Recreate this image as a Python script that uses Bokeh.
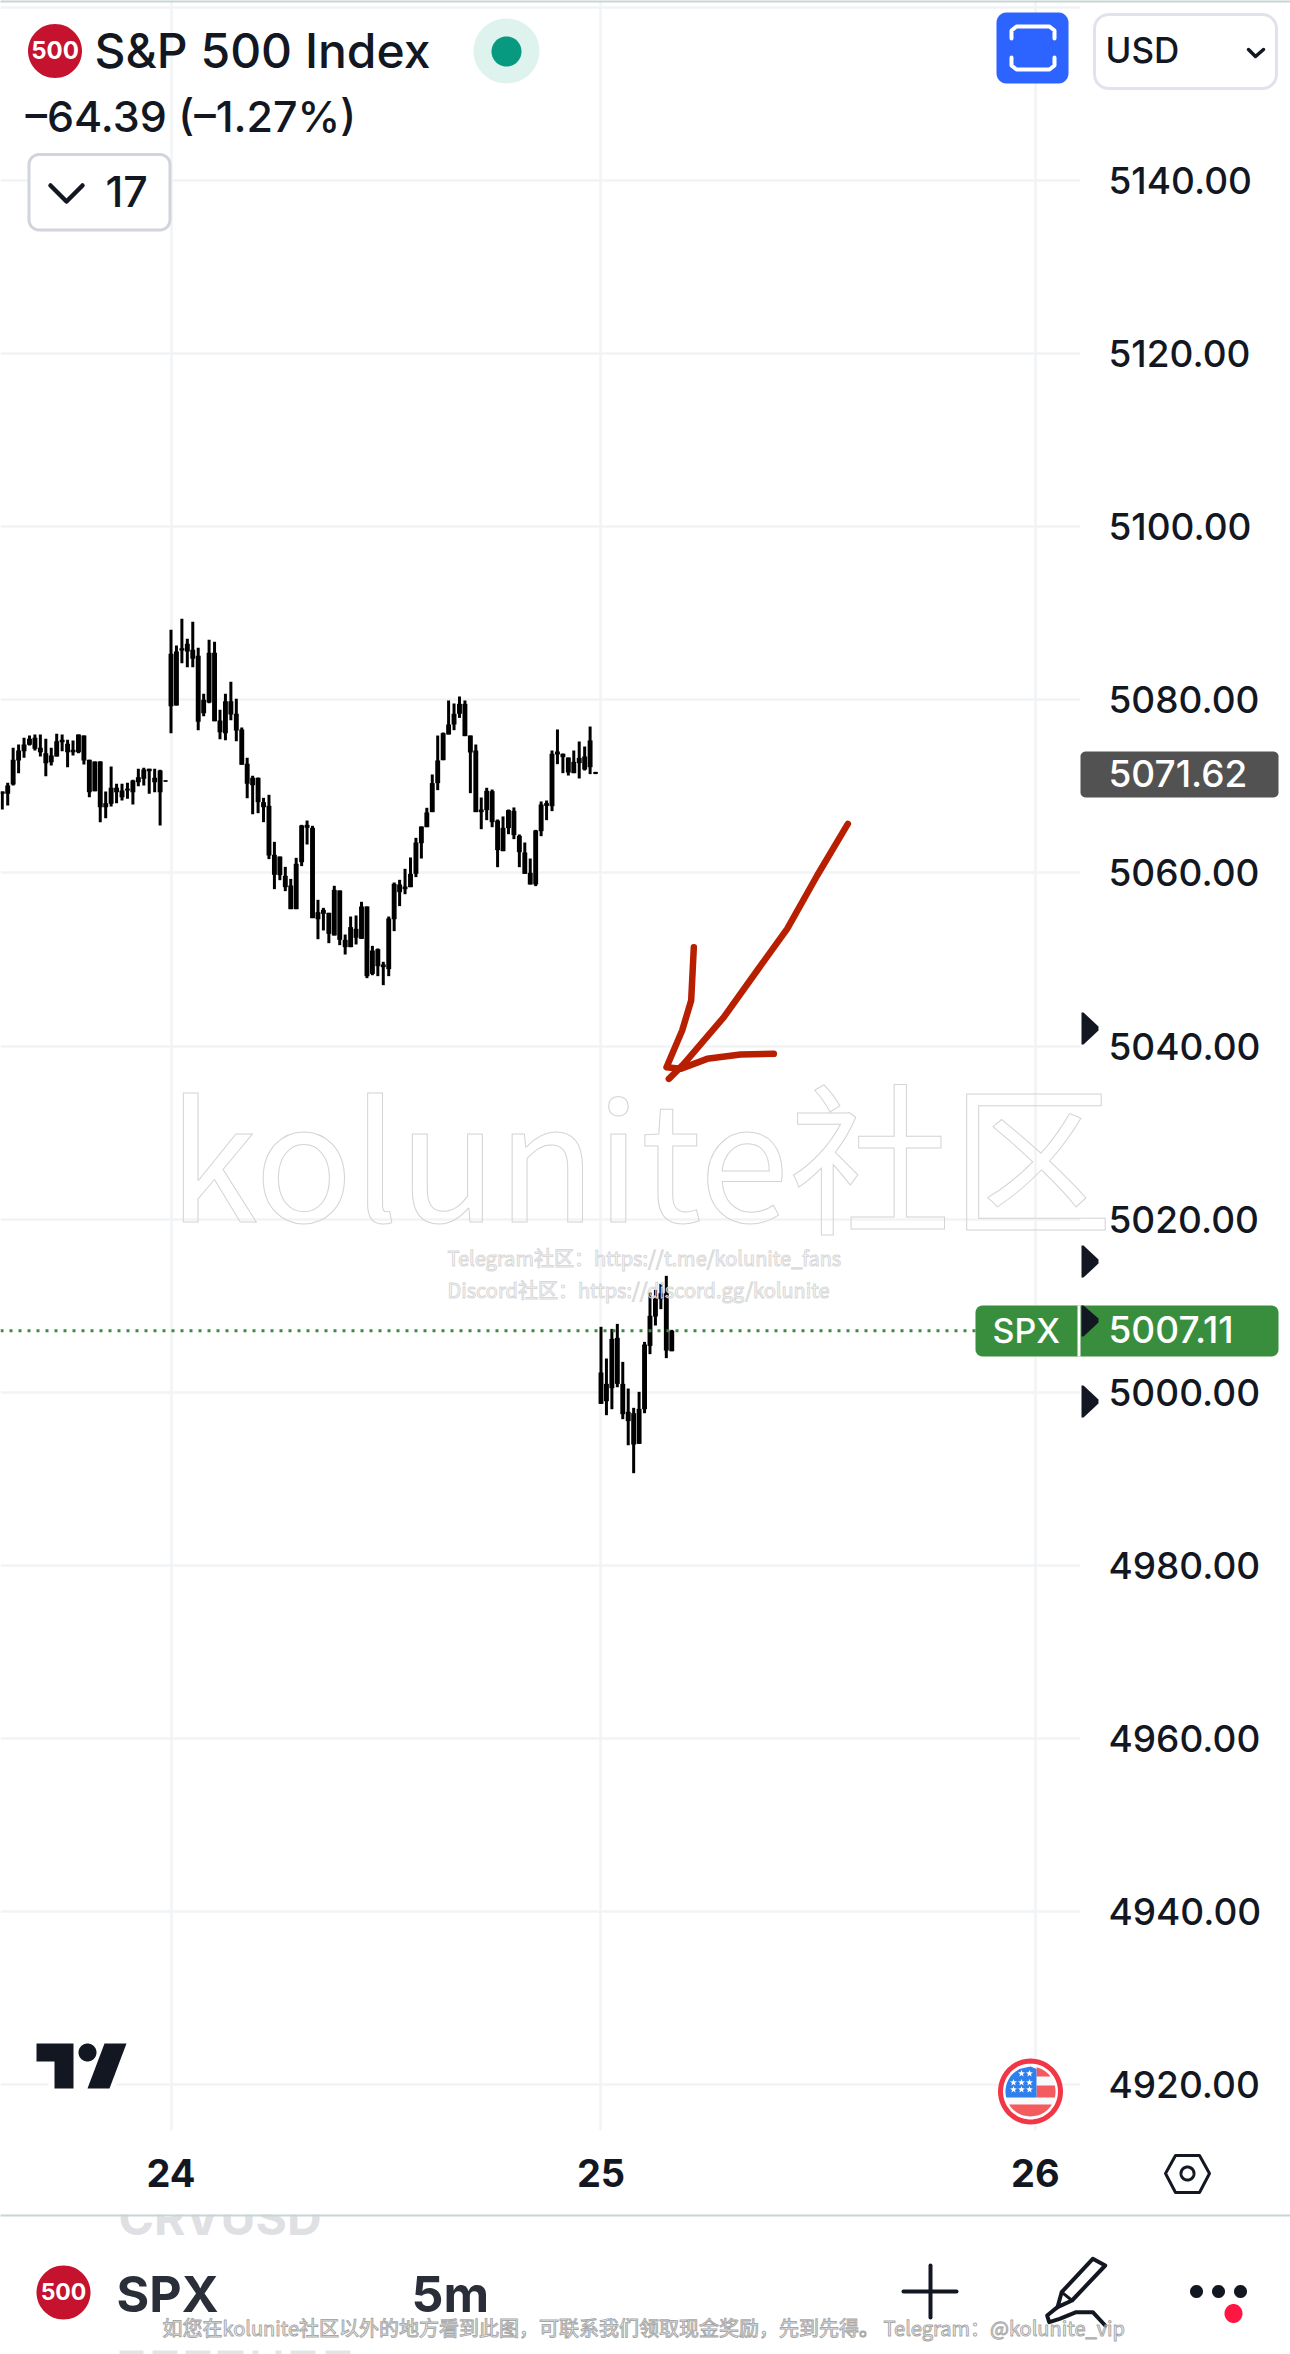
import math
from bokeh.plotting import figure
from bokeh.embed import file_html
from bokeh.resources import INLINE
from bokeh.core.properties import value
from bokeh.models import Range1d, FixedTicker, NumeralTickFormatter, Span, ColumnDataSource

# ---- data: 5-minute bars ------------------------------------------------------------------
bar_index = list(range(-31, 79)) + list(range(79, 93))

high = [5069.41,5070.41,5074.46,5074.84,5075.61,5075.88,5076.00,5076.00,5075.50,5074.46,5076.08,5076.00,5075.38,5075.31,5076.00,5075.88,5073.07,5072.88,5072.92,5069.41,5072.30,5070.30,5070.30,5070.41,5070.76,5072.03,5072.15,5072.03,5072.03,5071.92,5070.72,
        5088.09,5086.28,5089.36,5087.05,5089.01,5086.01,5080.70,5086.94,5086.70,5078.85,5080.70,5082.08,5080.12,5076.81,5073.30,5071.22,5071.03,5068.68,5069.03,5063.60,5061.90,5060.71,5059.32,5061.75,5065.56,5066.06,5065.45,5056.90,
        5055.97,5055.40,5058.52,5057.98,5052.89,5054.97,5055.09,5056.67,5056.13,5051.58,5051.28,5049.74,5054.97,5058.90,5059.21,5060.48,5061.79,5064.06,5065.37,5067.53,5071.38,5075.88,5076.23,5079.93,5079.58,5080.39,5079.93,5075.88,5074.84,5068.72,5069.84,5069.64,5066.18,5066.53,5067.33,5067.57,5064.45,5063.52,5061.67,5064.98,5068.26,5068.37,5074.15,5076.58,5073.80,5073.34,5074.15,5075.19,5074.61,5076.92,5071.69,
        5007.57,5003.91,5007.33,5007.91,5003.52,5000.44,4998.21,5000.06,5005.83,5011.53,5011.84,5012.53,5013.46,5007.22]
low = [5067.33,5067.80,5070.11,5071.53,5073.30,5074.73,5074.15,5073.46,5071.18,5072.42,5073.46,5074.07,5072.22,5073.57,5073.84,5072.53,5068.76,5069.45,5065.87,5066.33,5067.68,5068.07,5068.37,5068.57,5067.91,5070.03,5070.11,5069.14,5069.34,5065.48,5070.53,
       5076.15,5079.35,5084.24,5083.78,5083.78,5076.50,5078.12,5079.62,5077.54,5075.46,5075.34,5077.65,5075.23,5072.49,5068.64,5066.79,5066.91,5065.87,5061.60,5058.13,5059.17,5057.90,5055.82,5055.82,5060.79,5063.29,5054.78,5052.35,
       5053.36,5051.89,5052.78,5051.66,5050.58,5051.43,5051.74,5052.39,5047.85,5048.19,5048.08,5047.04,5048.08,5053.28,5056.17,5057.55,5058.36,5059.52,5061.67,5065.29,5067.03,5069.57,5073.03,5076.00,5076.50,5077.92,5075.81,5069.22,5067.03,5065.06,5066.10,5065.29,5060.67,5062.52,5064.48,5063.91,5060.67,5059.90,5058.67,5058.48,5064.25,5066.10,5067.14,5072.57,5071.53,5071.26,5071.53,5070.92,5071.84,5071.42,5071.42,
       4998.67,4997.36,4998.05,5000.59,4996.90,4993.89,4990.66,4994.05,4997.59,5004.41,5007.72,5009.61,5003.95,5004.75]
body_top = [5069.41,5070.11,5073.07,5074.15,5074.84,5075.50,5075.61,5074.46,5073.84,5073.57,5075.23,5075.38,5074.92,5074.23,5076.00,5075.88,5073.07,5072.88,5072.88,5068.07,5069.84,5069.84,5069.53,5069.72,5070.68,5071.07,5071.95,5072.03,5070.99,5071.84,5070.68,
            5085.32,5085.59,5085.97,5086.47,5085.78,5085.09,5080.00,5085.43,5085.43,5077.62,5079.85,5079.85,5078.39,5076.58,5072.61,5070.99,5070.99,5068.18,5067.76,5062.10,5061.90,5059.67,5058.55,5061.06,5065.49,5065.56,5065.22,5055.47,
            5055.74,5055.40,5058.05,5057.98,5052.28,5053.74,5053.55,5056.13,5056.13,5051.04,5051.20,5049.43,5054.74,5058.75,5058.67,5058.44,5059.90,5063.52,5065.37,5066.99,5070.38,5073.00,5076.15,5077.15,5078.39,5079.54,5079.54,5075.88,5074.15,5067.33,5069.49,5069.45,5066.06,5065.22,5067.26,5067.18,5064.29,5062.37,5060.02,5064.91,5067.91,5068.07,5073.77,5074.03,5073.77,5073.34,5072.84,5073.30,5073.46,5075.31,5071.65,
            5002.29,5000.98,5006.18,5006.29,5000.98,4997.75,4997.59,4998.09,5005.52,5008.84,5010.84,5011.45,5011.45,5007.11]
body_bot = [5069.14,5069.14,5070.22,5072.99,5074.07,5074.80,5074.34,5073.96,5072.69,5072.80,5073.46,5075.11,5073.96,5073.96,5073.96,5072.99,5069.34,5069.45,5067.60,5067.60,5067.99,5069.34,5068.76,5069.53,5069.34,5070.49,5070.88,5071.76,5070.49,5069.34,5070.57,
            5079.27,5079.35,5085.70,5085.59,5084.74,5077.46,5078.46,5079.70,5077.54,5076.27,5076.15,5078.31,5076.46,5072.49,5070.30,5070.14,5068.18,5067.60,5062.02,5059.79,5059.75,5058.36,5055.82,5055.82,5061.25,5065.22,5054.78,5054.66,
            5055.28,5052.97,5052.78,5052.28,5051.43,5051.43,5052.51,5052.39,5048.08,5048.35,5049.23,5049.12,5048.89,5054.66,5057.78,5058.13,5058.36,5059.90,5063.44,5065.29,5067.03,5070.38,5073.03,5076.00,5077.15,5078.39,5075.81,5073.92,5067.03,5067.03,5067.26,5065.87,5062.64,5062.52,5065.18,5064.37,5062.40,5059.90,5058.67,5058.67,5064.83,5067.76,5067.72,5073.69,5073.38,5071.61,5071.53,5072.69,5071.96,5072.22,5071.46,
            4998.67,4998.98,5000.48,5000.98,4997.48,4996.67,4993.97,4994.05,4998.05,5005.37,5008.76,5010.76,5004.83,5004.75]

price_ticks = [4920, 4940, 4960, 4980, 5000, 5020, 5040, 5060, 5080, 5100, 5120, 5140]
top_grid_price = 5160
day_ticks = [0, 79, 158.8]
day_labels = {0: "24", 79: "25", 158.8: "26"}
last_price = 5007.11
last_price_label = "5007.11"
prev_close_label = "5071.62"
title_text = "S&P 500 Index"
change_text = "\u201364.39 (\u20131.27%)"
indicator_count = "17"
watermark_big = "kolunite社区"
watermark_1 = "Telegram社区：https://t.me/kolunite_fans"
watermark_2 = "Discord社区：https://discord.gg/kolunite"
watermark_3 = "如您在kolunite社区以外的地方看到此图，可联系我们领取现金奖励，先到先得。 Telegram：@kolunite_vip"

# ---- page geometry (pixels of the 1290x2354 picture) --------------------------------------
BAR_PX, UNIT_PX = 5.443, 8.656
X0_PX, Y0_PX = 170.5, 180.0          # bar 0, price 5140
def dx(X): return (X - X0_PX) / BAR_PX
def dy(Y): return 5140 - (Y - Y0_PX) / UNIT_PX
FRAME_R, FRAME_B = 1080, 2130

p = figure(width=1290, height=2354, output_backend="svg", toolbar_location=None,
           x_range=Range1d(dx(0), dx(FRAME_R)), y_range=Range1d(dy(FRAME_B), dy(0)),
           y_axis_location="right", min_border_left=0, min_border_top=0,
           min_border_right=1290 - FRAME_R, min_border_bottom=2354 - FRAME_B,
           background_fill_color="white", border_fill_color="white")
p.outline_line_color = None

GRID = "#f2f3f5"
INK = "#131722"
MED = "Inter Medium"
for ax in (p.xaxis[0], p.yaxis[0]):
    ax.axis_line_color = None
    ax.major_tick_line_color = None
    ax.minor_tick_line_color = None
    ax.major_tick_in = 0
    ax.major_tick_out = 0
    ax.minor_tick_in = 0
    ax.minor_tick_out = 0
    ax.major_label_text_color = INK
    ax.major_label_text_font = "Inter"
p.yaxis[0].ticker = FixedTicker(ticks=price_ticks)
p.yaxis[0].formatter = NumeralTickFormatter(format="0.00")
p.yaxis[0].major_label_text_font = MED
p.yaxis[0].major_label_text_font_size = "37px"
p.yaxis[0].major_label_standoff = 28
p.xaxis[0].ticker = FixedTicker(ticks=day_ticks)
p.xaxis[0].major_label_overrides = day_labels
p.xaxis[0].major_label_text_font_size = "38px"
p.xaxis[0].major_label_text_font_style = "bold"
p.xaxis[0].major_label_standoff = 28
p.grid.grid_line_color = GRID
p.grid.grid_line_width = 2.5
p.add_layout(Span(location=top_grid_price, dimension="width", line_color=GRID, line_width=2.5))

src = ColumnDataSource(dict(x=bar_index, high=high, low=low, top=body_top, bot=body_bot))
p.segment("x", "low", "x", "high", source=src, line_color="black", line_width=3)
p.vbar("x", 0.9, "bot", "top", source=src, fill_color="black", line_color=None)
p.line([dx(0), dx(975)], [last_price, last_price], line_color="#388e3c", line_width=3, line_dash="3 6")

# freehand red arrow
RED = "#b81f00"
shaft = [(622,70),(530,225),(440,385),(350,510),(250,650),(130,790),(85,835)]
head = [(160,440),(152,600),(125,690),(78,800),(120,805),(200,775),(300,762),(400,760)]
for pts in (shaft, head):
    p.line([dx(640 + a / 3) for a, b in pts], [dy(800 + b / 3) for a, b in pts],
           line_color=RED, line_width=6.5, line_cap="round", line_join="round")

# ---- helpers for the chrome around the chart (overlay level is not clipped to the frame) ----
LV = "overlay"
def text(X, Y, s, size, color=INK, bold=False, align="left", font="Inter", **kw):
    p.text([dx(X)], [dy(Y - 0.38 * size)], text=[s], text_font=value(font), text_font_size=f"{size}px",
           text_color=color, text_font_style="bold" if bold else "normal",
           text_align=align, text_baseline="alphabetic", level=LV, **kw)
def poly(pts, fill=None, line=None, lw=1):
    p.patch([dx(a) for a, b in pts], [dy(b) for a, b in pts], fill_color=fill, line_color=line, line_width=lw,
            line_join="round", level=LV)
def box(l, t, r, b, fill="white", line=None, lw=1, radius=0):
    if radius == 0:
        pts = [(l, t), (r, t), (r, b), (l, b)]
    else:
        pts = []
        for cx, cy, a0 in ((r - radius, t + radius, -90), (r - radius, b - radius, 0), (l + radius, b - radius, 90), (l + radius, t + radius, 180)):
            for k in range(7):
                a = math.radians(a0 + 15 * k)
                pts.append((cx + radius * math.cos(a), cy + radius * math.sin(a)))
    poly(pts, fill, line, lw)
def ellipse(cx, cy, rx, ry, fill=None, line=None, lw=1):
    poly([(cx + rx * math.cos(t * math.pi / 30), cy + ry * math.sin(t * math.pi / 30)) for t in range(60)], fill, line, lw)
def stroke(pts, color=INK, lw=4):
    p.line([dx(a) for a, b in pts], [dy(b) for a, b in pts], line_color=color, line_width=lw,
           line_cap="round", line_join="round", level=LV)
def band(cx, cy, r, y0, y1, x0=-1e9, x1=1e9, fill="red"):
    left, right = [], []
    n = 12
    for i in range(n + 1):
        y = y0 + (y1 - y0) * i / n
        h = math.sqrt(max(r * r - (y - cy) ** 2, 0))
        left.append((max(cx - h, x0), y))
        right.append((min(cx + h, x1), y))
    poly(right + left[::-1], fill)
def star(cx, cy, r=3.6, fill="white"):
    pts = []
    for i in range(10):
        rr = r if i % 2 == 0 else r * 0.42
        a = -math.pi / 2 + i * math.pi / 5
        pts.append((cx + rr * math.cos(a), cy + rr * math.sin(a)))
    poly(pts, fill)

# top rule
box(0, 0, 1290, 2, fill="#c8d5d5")

# header
ellipse(54.5, 50.5, 27, 27, fill="#c4122f")
text(54.5, 59, "500", 24, "white", True, "center")
text(94, 68, title_text, 48, font=MED)
ellipse(506, 50.5, 33, 32.5, fill="#def2ee")
ellipse(506, 51, 15, 15, fill="#089981")
text(25, 132, change_text, 43, font=MED)
box(28.5, 154, 169.5, 229.5, fill="white", line="#d1d4dc", lw=3, radius=10)
stroke([(50, 185), (66, 201), (82, 185)], lw=4.5)
text(105, 207, indicator_count, 43, font=MED)

box(996, 12, 1068, 83, fill="#2d63ff", radius=10)
stroke([(1011, 38), (1011, 30), (1016, 26), (1049, 26), (1054, 30), (1054, 38)], color="white", lw=4)
stroke([(1011, 57), (1011, 65), (1016, 69), (1049, 69), (1054, 65), (1054, 57)], color="white", lw=4)
box(1094, 14, 1276, 88, fill="white", line="#e0e3eb", lw=3, radius=14)
text(1105, 63, "USD", 35, font=MED)
stroke([(1248, 49), (1255, 56), (1263, 49)], lw=3.5)

# price tags
box(1080, 751, 1278, 797, fill="#525252", radius=5)
text(1108, 787, prev_close_label, 37, "white", font=MED)
box(975, 1305, 1278, 1356, fill="#388e3c", radius=7)
box(1077, 1305, 1080, 1356, fill="white")
text(992, 1343, "SPX", 34, "white", font=MED)
text(1108, 1343, last_price_label, 37, "white", font=MED)
for cy in (1028, 1261, 1320, 1401):
    top = max(cy - 16, 1305) if cy == 1320 else cy - 16
    poly([(1081, top), (1083, top), (1098, cy - 2), (1098, cy + 2), (1083, cy + 16), (1081, cy + 16)], fill=INK)

# TradingView mark
box(48, 2076, 116, 2090, fill="white")
poly([(36, 2043), (73, 2043), (73, 2088), (54, 2088), (54, 2061), (36, 2061)], fill=INK)
ellipse(87, 2052, 9, 9, fill=INK)
poly([(104, 2043), (126, 2043), (109, 2088), (87, 2088)], fill=INK)

# flag badge
ellipse(1030, 2091, 30, 30.5, fill="white", line="#f23645", lw=5)
ellipse(1030, 2091, 25, 25, fill="#f8f9fd")
band(1030, 2091, 25, 2067, 2076, x0=1036, fill="#f45b5f")
band(1030, 2091, 25, 2085, 2097, x0=1036, fill="#f45b5f")
band(1030, 2091, 25, 2104, 2116, fill="#f45b5f")
band(1030, 2091, 25, 2066, 2097, x1=1036, fill="#2f80ed")
for sy, xs in ((2073, (1021, 1029)), (2082, (1013, 1021, 1029)), (2089, (1013, 1021, 1029))):
    for sx_ in xs:
        star(sx_, sy)

# settings hexagon
poly([(1165, 2173), (1175, 2155), (1199, 2155), (1209, 2173), (1199, 2192), (1175, 2192)], line=INK, lw=3)
ellipse(1187, 2173, 6.5, 6.5, line=INK, lw=3)

# ghost rows of the list behind the bottom bar
text(118, 2235, "CRVUSD", 48, "#dfe0e3", True)
box(100, 2192, 340, 2214, fill="white")
box(0, 2214, 1290, 2216, fill="#c8d5d5")
for a, b in ((119, 143), (152, 177), (185, 210), (217, 243), (252, 258), (275, 281), (290, 315), (325, 350)):
    box(a, 2350, b, 2354, fill="#e3e4e7")

# bottom bar
ellipse(63, 2292, 27, 27, fill="#c4122f")
text(63, 2300, "500", 23, "white", True, "center")
text(116, 2312, "SPX", 50, "#2a2e39", True)
text(411, 2312, "5m", 50, "#2a2e39", True)
stroke([(903, 2291), (956, 2291)], lw=4)
stroke([(930, 2265), (930, 2317)], lw=4)
Z = lambda a, b: (640 + a / 2.41, 2000 + b / 3)
poly([Z(1005, 920), Z(1015, 875), Z(1090, 775), Z(1120, 795), Z(1040, 900)], line=INK, lw=4)
stroke([Z(1015, 875), Z(1040, 900)], lw=3)
stroke([Z(1005, 920), Z(980, 945), Z(985, 965), Z(1010, 955), Z(1050, 935), Z(1090, 935), Z(1120, 975)], lw=4)
for cx in (1196, 1218, 1240):
    ellipse(cx, 2291, 6.5, 6.5, fill=INK)
ellipse(1233, 2313, 9, 9.5, fill="#ff1744")

# watermarks
WM = "Noto Sans CJK SC"
NOFILL = value("rgba(255,255,255,0)")
text(168, 1213, watermark_big, 162, NOFILL, font=WM, text_outline_color="#d4d4d4")
text(447, 1265, watermark_1, 20, NOFILL, font=WM, text_outline_color="#d8d8d8")
text(447, 1297, watermark_2, 20, NOFILL, font=WM, text_outline_color="#d8d8d8")
text(162, 2335, watermark_3, 20, NOFILL, font=WM, text_outline_color="#a8a8a8")

open("out.html", "w").write(file_html(p, INLINE))
